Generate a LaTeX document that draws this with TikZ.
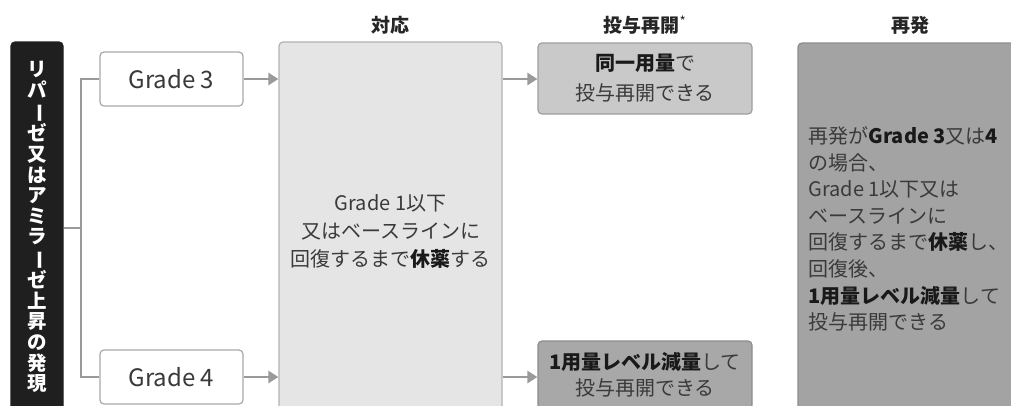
\documentclass[tikz,border=0pt]{standalone}
\usepackage{fontspec}
\setmainfont{Noto Sans CJK JP}
\usetikzlibrary{arrows.meta}
\definecolor{txtgray}{HTML}{3A3A3A}
\definecolor{linegray}{HTML}{9A9A9A}
\newcommand\tatebar{\rotatebox[origin=c]{-90}{ー}}
\newcommand\hl[1]{\textbf{\color{black!90}#1}}

\begin{document}
\begin{tikzpicture}[x=1pt,y=-1pt]
  \tikzset{
    box/.style={draw=#1, rounded corners=4pt, line width=1.2pt, inner sep=0pt,
      text=txtgray, align=center, font=\fontsize{20}{28}\selectfont},
    head/.style={font=\fontsize{19}{22}\selectfont\bfseries, text=black!85},
    branch/.style={draw=linegray, line width=2.8pt},
    arr/.style={branch, -{Triangle[length=10pt,width=12pt]}},
  }
  \useasboundingbox (0,0) rectangle (1011,405);
  \clip (0,0) rectangle (1011,405);

  % headers
  \node[head] (hresp) at (390,25) {対応};
  \node[head] (hre) at (645,25) {投与再開\textsuperscript{\normalfont *}};
  \node[head] (hrec) at (910,25) {再発};

  \node[box=black!88, fill=black!88, text=white, minimum width=52pt, minimum height=370pt,
    font=\fontsize{19.5}{20.6}\selectfont\bfseries] (sym) at (37,227)
    {リ\\パ\\\tatebar\\ゼ\\又\\は\\ア\\ミ\\ラ\\\tatebar\\ゼ\\上\\昇\\の\\発\\現};

  \node[box=black!34, fill=white, minimum width=143pt, minimum height=54pt,
    font=\fontsize{24}{28}\selectfont] (g3) at (171.5,79) {Grade 3};
  \node[box=black!34, fill=white, minimum width=143pt, minimum height=54pt,
    font=\fontsize{24}{28}\selectfont] (g4) at (171.5,377) {Grade 4};

  \node[box=black!30, fill=black!10, minimum width=223pt, minimum height=378pt] (resp) at (390.5,231)
    {Grade 1以下\\又はベースラインに\\回復するまで\hl{休薬}する};

  \node[box=black!38, fill=black!21, minimum width=214pt, minimum height=71pt,
    font=\fontsize{20}{30}\selectfont] (same) at (645,78.5)
    {\hl{同一用量}で\\投与再開できる};
  \node[box=black!45, fill=black!34, minimum width=214pt, minimum height=68pt,
    font=\fontsize{20}{26.5}\selectfont] (low) at (645,375)
    {\hl{1用量レベル減量}して\\投与再開できる};

  % recurrence box runs past the edge
  \node[box=black!45, fill=black!36, minimum width=242pt, minimum height=372pt] (recbox) at (919,229) {};
  \node[anchor=west, inner sep=0pt, align=left, text=txtgray,
    font=\fontsize{20}{26.6}\selectfont] (rec) at ([xshift=11pt]recbox.west)
    {再発が\hl{Grade 3}又は\hl{4}\\の場合、\\Grade 1以下又は\\ベースラインに\\回復するまで\hl{休薬}し、\\回復後、\\\hl{1用量レベル減量}して\\投与再開できる};

  % connectors
  \coordinate (br) at (81,228);
  \draw[branch] (sym.east |- br) -- (br);
  \draw[branch] (g3.west) -| (br) |- (g4.west);
  \draw[arr] (g3.east) -- (g3.east -| resp.west);
  \draw[arr] (g4.east) -- (g4.east -| resp.west);
  \draw[arr] (resp.east |- g3) -- (same.west |- g3);
  \draw[arr] (resp.east |- g4) -- (low.west |- g4);
\end{tikzpicture}
\end{document}
